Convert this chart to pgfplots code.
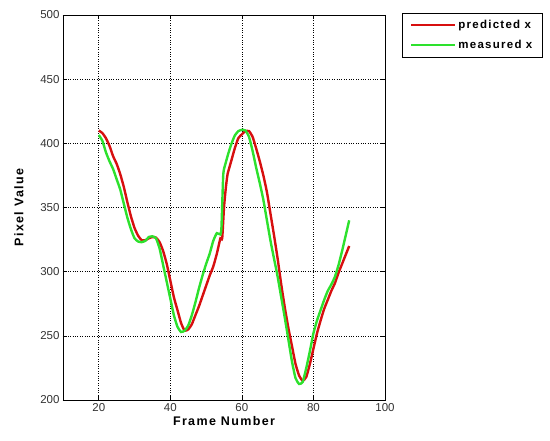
\documentclass[border=0pt]{standalone}
\usepackage{pgfplots}
\pgfplotsset{compat=1.18}
\usepackage{fontspec}
\setmainfont{Liberation Sans}
\newfontfamily\wideboldfont[LetterSpace=11]{Liberation Sans}
\definecolor{predred}{RGB}{215,15,15}
\definecolor{measgreen}{RGB}{45,225,45}
\begin{document}
\begin{tikzpicture}[x=1pt,y=1pt]
\begin{axis}[
  anchor=south west,
  scale only axis, width=322pt, height=385pt,
  xmin=10, xmax=100, ymin=200, ymax=500,
  xtick={20,40,...,100}, ytick={200,250,...,500},
  grid=major,
  major grid style={black, dotted, line width=0.6pt},
  tick align=inside,
  major tick length=4pt,
  axis line style={black, line width=0.8pt},
  tick style={black, line width=0.6pt},
  tick label style={font=\fontsize{11.5}{12}\selectfont, text=black!80},
  /pgf/number format/assume math mode=true,
  xlabel={Frame Number},
  ylabel={Pixel Value},
  label style={font=\fontsize{12.5}{14}\selectfont\wideboldfont\bfseries},
  xlabel style={yshift=2pt},
  ylabel style={yshift=10pt},
  legend style={at={(1.053,1.005)}, anchor=north west,
    draw=black, line width=0.6pt,
    font=\fontsize{11.5}{13}\selectfont\wideboldfont\bfseries,
    inner xsep=8pt, inner ysep=5pt, row sep=6pt},
  legend cell align=left,
  legend image code/.code={\draw[#1, line width=2pt] (0pt,0pt) -- (44pt,0pt);},
]
\addplot[predred, line width=2.4pt, smooth, tension=0.3] coordinates {
(20,410) (21,408) (22,404) (23,398) (24,390) (25,384) (26,376) (27,366)
(28,354) (29,343) (30,334) (31,328) (32,324.5) (33,324.5) (34,326) (35,327)
(36,326.5) (37,323) (38,316) (39,306) (40,293) (41,280) (42,270) (43,260)
(44,254) (45,255) (46,259) (47,266) (48,273) (49,281) (50,289) (51,297)
(52,304) (53,314) (54,326) (54.5,326) (55,350) (55.5,365) (56,376) (57,386)
(58,396) (59,404) (60,407) (61,409.5) (62,409.5) (63,405) (64,396) (65,386)
(66,375) (67,362) (68,345) (69,328) (70,310) (71,290) (72,272) (73,256)
(74,242) (75,228) (76,219) (77,215) (78,218) (79,228) (80,240) (81,252)
(82,262) (83,271) (84,278) (85,285) (86,291) (87,299) (88,306) (89,313)
(90,320)
};
\addlegendentry{predicted x}
\addplot[measgreen, line width=2.4pt, smooth, tension=0.3] coordinates {
(20,406.5) (21,402) (22,393) (23,386) (24,380) (25,372) (26,364) (27,353)
(28,342) (29,333) (30,326) (31,323.5) (32,323) (33,324) (34,327) (35,327.5)
(36,326) (37,318) (38,305) (39,292) (40,279) (41,266) (42,257) (43,253)
(44,254) (45,258) (46,266) (47,276) (48,287) (49,297) (50,306) (51,314)
(52,324) (53,330) (54,329) (54.3,335) (54.8,376) (55.5,385) (56.2,392) (57,399)
(58,406) (59,409.5) (60,410.5) (61,410) (62,405) (63,394) (64,381) (65,369)
(66,356) (67,340) (68,324) (69,310) (70,296) (71,280) (72,264) (73,247)
(74,230) (75,217) (76,212.5) (77,214) (78,225) (79,238) (80,252) (81,262)
(82,270) (83,278) (84,285) (85,290) (86,296) (87,305) (88,316) (89,328)
(90,340)
};
\addlegendentry{measured x}
\end{axis}
\pgfresetboundingbox
\path[use as bounding box] (-63,-41) rectangle (487,400);
\end{tikzpicture}
\end{document}
